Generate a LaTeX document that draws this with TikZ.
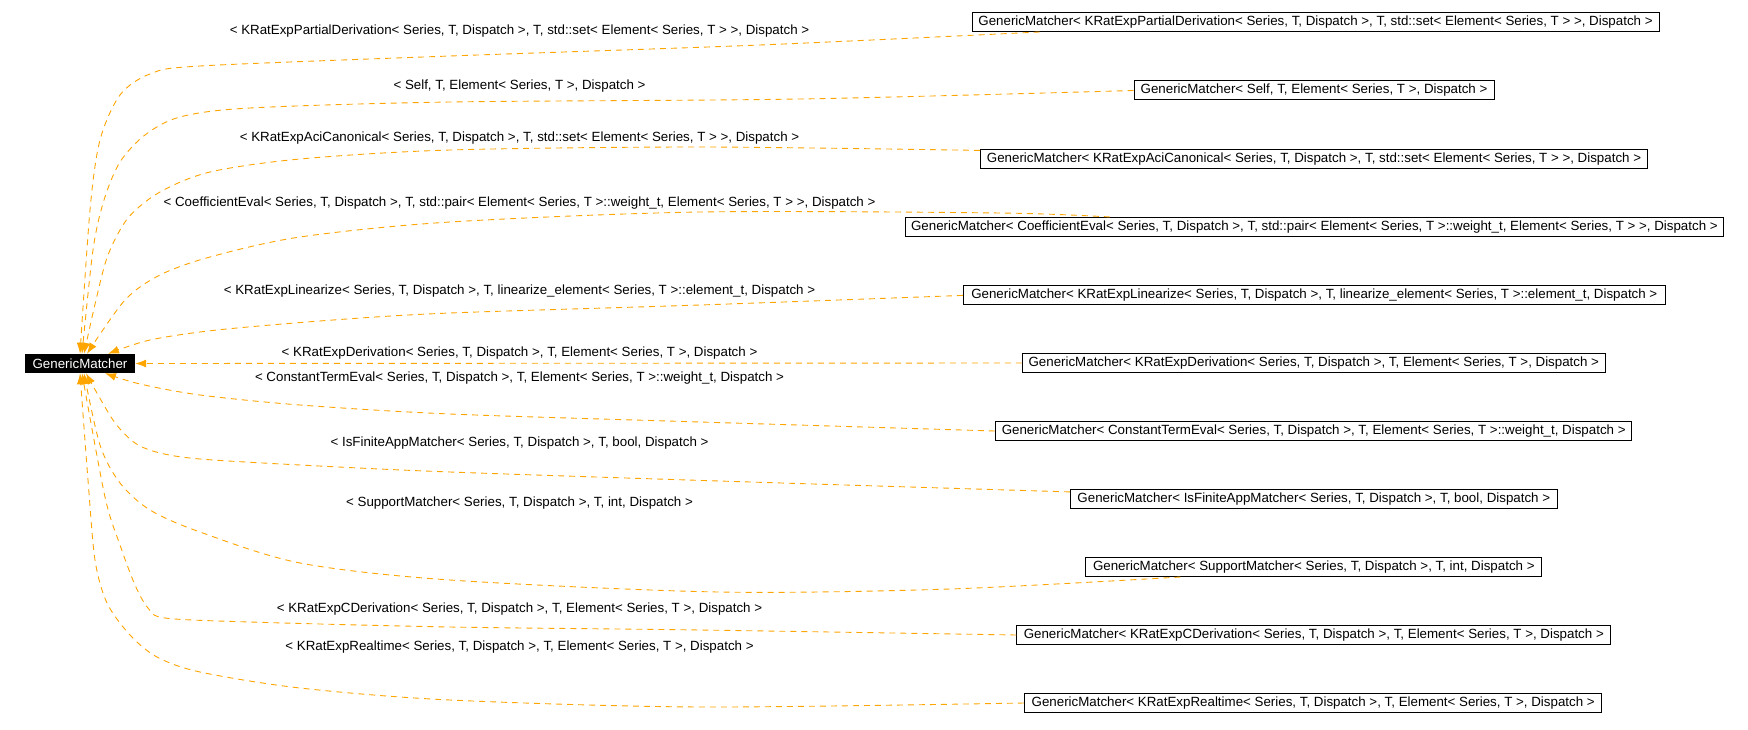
\documentclass[tikz,border=0pt]{standalone}
\usepackage{fontspec}
\setmainfont{Liberation Sans}
\usetikzlibrary{arrows.meta}
\definecolor{edgeorange}{HTML}{FFA500}
\begin{document}
\begin{tikzpicture}[x=1pt,y=-1pt,
  font=\fontsize{13.33}{16}\selectfont,
  cls/.style={draw=black, line width=1pt, minimum height=19pt, inner sep=0pt},
  lbl/.style={inner sep=0pt, anchor=center},
  inh/.style={draw=edgeorange, line width=0.9pt, dash pattern=on 6pt off 5pt, -{Latex[length=11pt,width=8pt]}},
]
\useasboundingbox (0,0) rectangle (1748,730);
\node[fill=black, text=white, minimum width=110pt, minimum height=19pt, inner sep=0pt] (gm) at (80,363.5) {GenericMatcher};

\node[cls, minimum width=687pt] (b1) at (1315.5,22) {GenericMatcher< KRatExpPartialDerivation< Series, T, Dispatch >, T, std::set< Element< Series, T > >, Dispatch >};
\node[cls, minimum width=360pt] (b2) at (1314,90.5) {GenericMatcher< Self, T, Element< Series, T >, Dispatch >};
\node[cls, minimum width=667pt] (b3) at (1314,159.4) {GenericMatcher< KRatExpAciCanonical< Series, T, Dispatch >, T, std::set< Element< Series, T > >, Dispatch >};
\node[cls, minimum width=818pt] (b4) at (1314.4,227) {GenericMatcher< CoefficientEval< Series, T, Dispatch >, T, std::pair< Element< Series, T >::weight\_t, Element< Series, T > >, Dispatch >};
\node[cls, minimum width=702pt] (b5) at (1314.3,295.4) {GenericMatcher< KRatExpLinearize< Series, T, Dispatch >, T, linearize\_element< Series, T >::element\_t, Dispatch >};
\node[cls, minimum width=583pt] (b6) at (1313.8,363) {GenericMatcher< KRatExpDerivation< Series, T, Dispatch >, T, Element< Series, T >, Dispatch >};
\node[cls, minimum width=636.5pt] (b7) at (1313.7,431) {GenericMatcher< ConstantTermEval< Series, T, Dispatch >, T, Element< Series, T >::weight\_t, Dispatch >};
\node[cls, minimum width=487pt] (b8) at (1313.8,499.4) {GenericMatcher< IsFiniteAppMatcher< Series, T, Dispatch >, T, bool, Dispatch >};
\node[cls, minimum width=456pt] (b9) at (1313.8,567) {GenericMatcher< SupportMatcher< Series, T, Dispatch >, T, int, Dispatch >};
\node[cls, minimum width=594pt] (b10) at (1313.8,635) {GenericMatcher< KRatExpCDerivation< Series, T, Dispatch >, T, Element< Series, T >, Dispatch >};
\node[cls, minimum width=577.5pt] (b11) at (1313.2,703) {GenericMatcher< KRatExpRealtime< Series, T, Dispatch >, T, Element< Series, T >, Dispatch >};

\node[lbl] (l1) at (519.5,30.7) {< KRatExpPartialDerivation< Series, T, Dispatch >, T, std::set< Element< Series, T > >, Dispatch >};
\node[lbl] (l2) at (519.5,85.7) {< Self, T, Element< Series, T >, Dispatch >};
\node[lbl] (l3) at (519.5,138) {< KRatExpAciCanonical< Series, T, Dispatch >, T, std::set< Element< Series, T > >, Dispatch >};
\node[lbl] (l4) at (519.5,202.7) {< CoefficientEval< Series, T, Dispatch >, T, std::pair< Element< Series, T >::weight\_t, Element< Series, T > >, Dispatch >};
\node[lbl] (l5) at (519.5,290.7) {< KRatExpLinearize< Series, T, Dispatch >, T, linearize\_element< Series, T >::element\_t, Dispatch >};
\node[lbl] (l6) at (519.5,353) {< KRatExpDerivation< Series, T, Dispatch >, T, Element< Series, T >, Dispatch >};
\node[lbl] (l7) at (519.5,378.5) {< ConstantTermEval< Series, T, Dispatch >, T, Element< Series, T >::weight\_t, Dispatch >};
\node[lbl] (l8) at (519.5,443.5) {< IsFiniteAppMatcher< Series, T, Dispatch >, T, bool, Dispatch >};
\node[lbl] (l9) at (519.5,503.5) {< SupportMatcher< Series, T, Dispatch >, T, int, Dispatch >};
\node[lbl] (l10) at (519.5,609.5) {< KRatExpCDerivation< Series, T, Dispatch >, T, Element< Series, T >, Dispatch >};
\node[lbl] (l11) at (519.5,647.5) {< KRatExpRealtime< Series, T, Dispatch >, T, Element< Series, T >, Dispatch >};

% start and end points
\coordinate (s1) at ([xshift=68pt]b1.south west);
\coordinate (s3) at ([yshift=-1pt]b3.north west);
\coordinate (s4) at ([xshift=205pt]b4.north west);
\coordinate (s8) at ([yshift=-2.5pt]b8.north west);
\coordinate (s9) at ([xshift=95pt]b9.south west);
\coordinate (e1) at (gm.north);
\coordinate (e2) at ([xshift=2pt]gm.north);
\coordinate (e3) at ([xshift=4pt]gm.north);
\coordinate (e4) at ([xshift=7pt]gm.north);
\coordinate (e5) at ([xshift=28pt]gm.north);
\coordinate (e7) at ([xshift=25pt]gm.south);
\coordinate (e8) at ([xshift=6pt]gm.south);
\coordinate (e9) at ([xshift=4pt]gm.south);
\coordinate (e10) at ([xshift=2pt]gm.south);
\coordinate (e11) at (gm.south);

\draw[inh] plot[smooth] coordinates {(s1) (760,45) (450,56) (200,66) (150,74) (120,95) (100,140) (90,210) (e1)};
\draw[inh] plot[smooth] coordinates {(b2.west) (800,99) (450,102) (250,108) (180,117) (145,135) (120,162) (104,200) (93,250) (e2)};
\draw[inh] plot[smooth] coordinates {(s3) (700,147) (450,150) (300,159) (210,172) (160,192) (128,218) (108,255) (96,300) (e3)};
\draw[inh] plot[smooth] coordinates {(s4) (1000,213) (700,212) (450,222) (300,237) (210,257) (160,275) (125,300) (e4)};
\draw[inh] plot[smooth] coordinates {(b5.west) (700,305) (450,313) (333,320) (217,330) (150,340) (e5)};
\draw[inh] (b6.west) -- (gm.east);
\draw[inh] plot[smooth] coordinates {(b7.west) (700,422) (450,414) (300,405) (200,395) (140,384) (e7)};
\draw[inh] plot[smooth] coordinates {(s8) (750,482) (450,472) (300,465) (200,459) (160,453) (135,443) (113,420) (e8)};
\draw[inh] plot[smooth] coordinates {(s9) (950,589) (718,592) (450,580) (300,563) (200,532) (150,510) (120,483) (100,445) (e9)};
\draw[inh] plot[smooth] coordinates {(b10.west) (700,630) (450,627) (250,622) (165,618) (148,608) (135,585) (120,545) (105,497) (e10)};
\draw[inh] plot[smooth] coordinates {(b11.west) (700,707) (450,700) (300,688) (200,672) (157,657) (130,635) (107,603) (95,560) (88,480) (e11)};
\end{tikzpicture}
\end{document}
